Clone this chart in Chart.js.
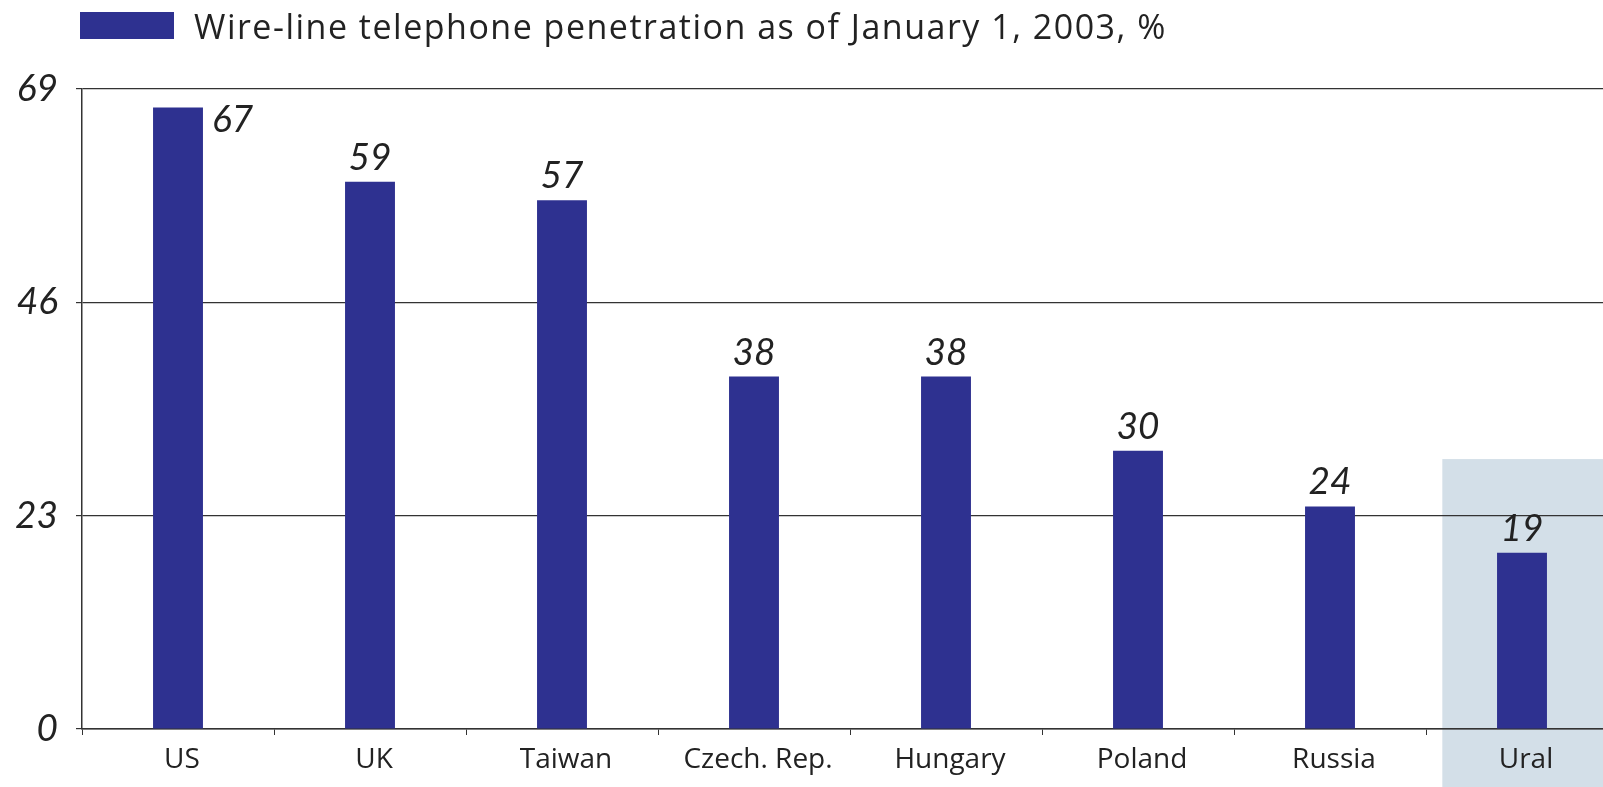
<!DOCTYPE html>
<html>
<head>
<meta charset="utf-8">
<script src="https://cdn.jsdelivr.net/npm/chart.js@4"></script>
<style>
  html, body { margin: 0; padding: 0; background: #fff; overflow: hidden; }
  #wrap { width: 1625px; height: 787px; }
</style>
</head>
<body>
<div id="wrap"><canvas id="phoneChart" width="1625" height="787"></canvas></div>
<script>
// Chart data
const categories = ['US', 'UK', 'Taiwan', 'Czech. Rep.', 'Hungary', 'Poland', 'Russia', 'Ural'];
const penetration = [67, 59, 57, 38, 38, 30, 24, 19];
const yTicks = [0, 23, 46, 69];
const seriesLabel = 'Wire-line telephone penetration as of January 1, 2003, %';
const highlightCategory = 'Ural';

const barColor = '#2e3190';
const textColor = '#222222';
const numFont = 'Lato, "Open Sans", sans-serif';
const textFont = '"Open Sans", Lato, sans-serif';

// Shaded box behind the highlighted region
const highlightPlugin = {
    id: 'highlight',
    beforeDraw(chart) {
        const x = chart.scales.x, y = chart.scales.y;
        const i = categories.indexOf(highlightCategory);
        const step = x.getPixelForValue(1) - x.getPixelForValue(0);
        const left = x.getPixelForValue(i) - step * 0.415;
        const top = y.getPixelForValue(29.1);
        const ctx = chart.ctx;
        ctx.save();
        ctx.fillStyle = '#d3dfe8';
        ctx.fillRect(left, top, chart.width - left, chart.height - top);
        ctx.restore();
    }
};

// Value labels above bars (beside the bar when there is no room above)
const valueLabels = {
    id: 'valueLabels',
    afterDatasetsDraw(chart) {
        const ctx = chart.ctx;
        const meta = chart.getDatasetMeta(0);
        ctx.save();
        ctx.font = 'italic 37px ' + numFont;
        ctx.fillStyle = textColor;
        ctx.textBaseline = 'alphabetic';
        meta.data.forEach((bar, i) => {
            const txt = String(penetration[i]);
            if (bar.y - 40 < chart.chartArea.top) {
                ctx.textAlign = 'left';
                ctx.fillText(txt, bar.x + bar.width / 2 + 9, bar.y + 24);
            } else {
                ctx.textAlign = 'center';
                ctx.fillText(txt, bar.x, bar.y - 12);
            }
        });
        ctx.restore();
    }
};

// Legend drawn at the top left
const legendBox = {
    id: 'legendBox',
    afterDraw(chart) {
        const ctx = chart.ctx;
        const ds = chart.data.datasets[0];
        ctx.save();
        ctx.fillStyle = ds.backgroundColor;
        ctx.fillRect(80, 12, 94, 27);
        ctx.font = '34px ' + textFont;
        ctx.letterSpacing = '1.5px';
        ctx.fillStyle = textColor;
        ctx.textAlign = 'left';
        ctx.textBaseline = 'alphabetic';
        ctx.fillText(ds.label, 194, 39);
        ctx.restore();
    }
};

new Chart(document.getElementById('phoneChart'), {
    type: 'bar',
    data: {
        labels: categories,
        datasets: [{
            label: seriesLabel,
            data: penetration,
            backgroundColor: barColor,
            borderWidth: 0,
            categoryPercentage: 1,
            barPercentage: 0.26
        }]
    },
    options: {
        responsive: false,
        animation: false,
        layout: { padding: { top: 89, left: 0, right: 7, bottom: 0 } },
        plugins: {
            legend: { display: false },
            tooltip: { enabled: false }
        },
        scales: {
            x: {
                afterFit(scale) { scale.height = 58; },
                border: { color: '#333', width: 1.5 },
                grid: { display: true, drawOnChartArea: false, drawTicks: true, tickLength: 6, color: '#333', offset: true },
                ticks: { color: textColor, font: { family: textFont, size: 28 }, padding: 8, maxRotation: 0, labelOffset: 4 }
            },
            y: {
                min: 0,
                max: 69,
                afterFit(scale) { scale.width = 82; },
                afterBuildTicks(scale) { scale.ticks = yTicks.map(v => ({ value: v })); },
                border: { color: '#333', width: 1.5 },
                grid: { color: '#333', lineWidth: 1.2, tickLength: 6 },
                ticks: { color: textColor, font: { family: numFont, size: 37, style: 'italic' }, padding: 18 }
            }
        }
    },
    plugins: [highlightPlugin, valueLabels, legendBox]
});
</script>
</body>
</html>
